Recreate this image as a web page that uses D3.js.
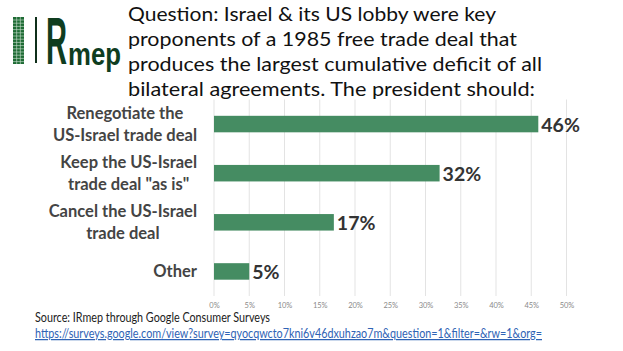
<!DOCTYPE html>
<html>
<head>
<meta charset="utf-8">
<script src="https://cdn.jsdelivr.net/npm/d3@7"></script>
<style>
  body { margin: 0; background: #fff; }
  svg { display: block; }
</style>
</head>
<body>
<div id="chart"></div>
<script>
const W = 623, H = 351;

// data
const answers = [
  ["Renegotiate the", "US-Israel trade deal"],
  ["Keep the US-Israel", "trade deal \"as is\""],
  ["Cancel the US-Israel", "trade deal"],
  ["Other"]
];
const shares = [46, 32, 17, 5];
const tickValues = [0, 5, 10, 15, 20, 25, 30, 35, 40, 45, 50];
const titleLines = [
  "Israel & its US lobby were key",
  "proponents of a 1985 free trade deal that",
  "produces the largest cumulative deficit of all",
  "bilateral agreements. The president should:"
];
const sourceText = "Source: IRmep through Google Consumer Surveys";
const linkText = "https://surveys.google.com/view?survey=qyocqwcto7kni6v46dxuhzao7m&question=1&filter=&rw=1&org=";

const font = "Lato, 'Open Sans', sans-serif";
const barColor = "#458c62";

var svg = d3.select("#chart").append("svg")
    .attr("width", W)
    .attr("height", H);

// squeeze a text to the width it takes in the picture
function fit(sel, width) {
    const len = sel.node().getComputedTextLength();
    if (Math.abs(len - width) > 1) {
        sel.attr("textLength", width).attr("lengthAdjust", "spacingAndGlyphs");
    }
}

// logo letters: scaled horizontally with a transform
function logoText(g, str, x0, y0, size, width) {
    const t = g.append("text")
        .text(str)
        .style("font-family", "'Liberation Sans', Arial, sans-serif")
        .style("font-weight", "bold")
        .style("font-size", size + "px")
        .attr("fill", "#0f3d1f");
    const len = t.node().getComputedTextLength();
    t.attr("transform", `translate(${x0},${y0}) scale(${width / len},1)`);
}

/**
 * Logo in the top left corner
 */
function drawLogo() {
    const g = svg.append("g").attr("class", "logo");
    g.append("rect")
        .attr("x", 13).attr("y", 17)
        .attr("width", 11).attr("height", 47)
        .attr("fill", "#1e6b34");
    for (let i = 1; i < 3; i++) {
        g.append("line")
            .attr("x1", 13 + i * 11 / 3).attr("x2", 13 + i * 11 / 3)
            .attr("y1", 17).attr("y2", 64)
            .attr("stroke", "#cfe3d3").attr("stroke-width", 0.6);
    }
    for (let y = 20; y < 64; y += 3.2) {
        g.append("line")
            .attr("x1", 13).attr("x2", 24)
            .attr("y1", y).attr("y2", y)
            .attr("stroke", "#cfe3d3").attr("stroke-width", 0.6);
    }
    g.append("rect")
        .attr("x", 35).attr("y", 17)
        .attr("width", 2).attr("height", 46)
        .attr("fill", "#0f2f1a");
    logoText(g, "R", 46, 64, 66, 21);
    logoText(g, "mep", 68, 65, 31, 53);
}

/**
 * Question text at the top
 */
function drawTitle() {
    const ends = [496, 517, 542, 535];
    const bases = [20.7, 45.8, 71, 96.4];
    titleLines.forEach((line, i) => {
        const t = svg.append("text")
            .attr("x", 128)
            .attr("y", bases[i])
            .style("font-family", font)
            .style("font-size", "20px")
            .attr("fill", "#111");
        if (i === 0) {
            t.append("tspan").text("Question: ");
        }
        t.append("tspan").text(line);
        fit(t, ends[i] - 128);
    });
}

drawLogo();
drawTitle();

const x = d3.scaleLinear()
    .domain([0, 50])
    .range([214, 566.5]);

const y = d3.scaleBand()
    .domain(d3.range(answers.length))
    .range([99.5, 296])
    .paddingInner(0.664)
    .paddingOuter(0.332);

// gridlines
svg.append("g")
    .attr("class", "grid")
    .selectAll("line")
    .data(tickValues)
    .enter().append("line")
    .attr("x1", d => x(d)).attr("x2", d => x(d))
    .attr("y1", 99.5).attr("y2", 296)
    .attr("stroke", "#e3e3e3")
    .attr("stroke-width", 1);

// tick labels
const xAxis = svg.append("g")
    .attr("class", "xAxis")
    .attr("transform", "translate(0,296)")
    .call(d3.axisBottom(x).tickValues(tickValues).tickFormat(d => d + "%").tickSize(0).tickPadding(7));
xAxis.select(".domain").remove();
xAxis.selectAll("text")
    .style("font-family", font)
    .style("font-size", "7.5px")
    .attr("fill", "#8a8a8a");

// bars
svg.selectAll(".bar")
    .data(shares)
    .enter().append("rect")
    .attr("class", "bar")
    .attr("x", x(0))
    .attr("y", (d, i) => y(i))
    .attr("width", d => x(d) - x(0))
    .attr("height", y.bandwidth())
    .attr("fill", barColor);

// value labels
svg.selectAll(".value")
    .data(shares)
    .enter().append("text")
    .attr("class", "value")
    .attr("x", d => x(d) + 3)
    .attr("y", (d, i) => y(i) + y.bandwidth() / 2 + 7.5)
    .text(d => d + "%")
    .style("font-family", font)
    .style("font-weight", "bold")
    .style("font-size", "19.5px")
    .attr("fill", "#333");

// category labels: block right aligned, lines centred inside the block
answers.forEach((lines, i) => {
    const cy = y(i) + y.bandwidth() / 2;
    const g = svg.append("g").attr("class", "category");
    const texts = lines.map((line, j) => g.append("text")
        .attr("y", lines.length > 1 ? cy - 5.5 + j * 22 : cy + 5.5)
        .text(line)
        .style("font-family", font)
        .style("font-weight", "bold")
        .style("font-size", "16.5px")
        .attr("fill", "#444"));
    const widths = texts.map(t => t.node().getComputedTextLength());
    const maxW = d3.max(widths);
    const mid = 197 - maxW / 2;
    texts.forEach(t => t.attr("x", mid).style("text-anchor", "middle"));
});

// source and link
svg.append("text")
    .attr("x", 35).attr("y", 322)
    .text(sourceText)
    .style("font-family", font)
    .style("font-size", "12.5px")
    .attr("fill", "#222")
    .call(fit, 235);

svg.append("text")
    .attr("x", 35).attr("y", 338)
    .text(linkText)
    .style("font-family", font)
    .style("font-size", "12.5px")
    .style("text-decoration", "underline")
    .attr("fill", "#2f63b5")
    .call(fit, 507);
</script>
</body>
</html>
